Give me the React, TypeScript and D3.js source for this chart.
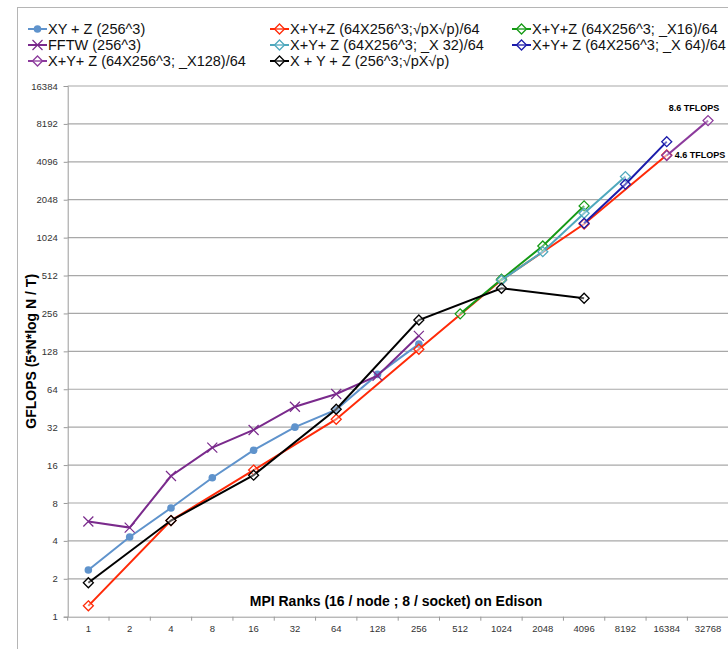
import React, { useRef, useEffect } from 'react';
import * as d3 from 'd3';

// MPI rank categories along the x axis
const ranks = ['1', '2', '4', '8', '16', '32', '64', '128', '256', '512', '1024', '2048', '4096', '8192', '16384', '32768'];
const yTicks = [1, 2, 4, 8, 16, 32, 64, 128, 256, 512, 1024, 2048, 4096, 8192, 16384];

// GFLOPS per series (rank -> value)
const xyzValues: [string, number][] = [
  ['1', 2.35], ['2', 4.3], ['4', 7.3], ['8', 12.7], ['16', 21], ['32', 32], ['64', 44], ['128', 84], ['256', 146],
];
const fftwValues: [string, number][] = [
  ['1', 5.7], ['2', 5.1], ['4', 13.1], ['8', 22], ['16', 30.4], ['32', 46.5], ['64', 58.7], ['128', 82], ['256', 170],
];
const sqrtPValues: [string, number][] = [
  ['1', 1.22], ['4', 5.8], ['16', 14.6], ['64', 37], ['256', 133], ['1024', 472], ['4096', 1314], ['16384', 4645],
];
const x16Values: [string, number][] = [['512', 254], ['1024', 478], ['2048', 880], ['4096', 1830]];
const x32Values: [string, number][] = [['1024', 470], ['2048', 792], ['4096', 1600], ['8192', 3125]];
const x64Values: [string, number][] = [['4096', 1330], ['8192', 2720], ['16384', 5920]];
const x128Values: [string, number][] = [['16384', 4600], ['32768', 8700]];
const singleValues: [string, number][] = [
  ['1', 1.86], ['4', 5.8], ['16', 13.3], ['64', 44.4], ['256', 227], ['1024', 406], ['4096', 338],
];

type Series = { name: string; color: string; marker: 'circle' | 'cross' | 'diamond'; values: [string, number][] };

// order follows the legend (row-major, 3 columns)
const series: Series[] = [
  { name: 'XY + Z (256^3)', color: '#5f93cc', marker: 'circle', values: xyzValues },
  { name: 'X+Y+Z (64X256^3;\u221apX\u221ap)/64', color: '#ff2a08', marker: 'diamond', values: sqrtPValues },
  { name: 'X+Y+Z (64X256^3; _X16)/64', color: '#159a15', marker: 'diamond', values: x16Values },
  { name: 'FFTW (256^3)', color: '#7a2a8c', marker: 'cross', values: fftwValues },
  { name: 'X+Y+ Z (64X256^3; _X 32)/64', color: '#4fa8bd', marker: 'diamond', values: x32Values },
  { name: 'X+Y+ Z (64X256^3; _X 64)/64', color: '#1c1cab', marker: 'diamond', values: x64Values },
  { name: 'X+Y+ Z (64X256^3; _X128)/64', color: '#8c3a9c', marker: 'diamond', values: x128Values },
  { name: 'X + Y + Z (256^3;\u221apX\u221ap)', color: '#000000', marker: 'diamond', values: singleValues },
];

const annotations: [string, number, string][] = [
  ['32768', 8700, '8.6 TFLOPS'],
  ['16384', 4600, '4.6 TFLOPS'],
];

const width = 728;
const height = 649;
const font = '"Liberation Sans", Arial, sans-serif';

const Chart = () => {
  const svgRef = useRef<SVGSVGElement>(null);

  useEffect(() => {
    document.body.style.margin = '0';
    document.body.style.overflow = 'hidden';

    const svg = d3.select(svgRef.current);
    svg.selectAll('*').remove();

    const left = 67.7;
    const right = 728.7;
    const top = 86;
    const bottom = 616.7;

    const x = d3.scaleBand<string>().domain(ranks).range([left, right]);
    const cx = (r: string) => (x(r) as number) + x.bandwidth() / 2;
    const y = d3.scaleLog().base(2).domain([1, 16384]).range([bottom, top]);

    svg.append('rect').attr('width', width).attr('height', height).attr('fill', '#fff');

    // outer chart frame
    svg.append('rect')
      .attr('x', 17.5).attr('y', 7.5)
      .attr('width', 800).attr('height', 800)
      .attr('fill', 'none').attr('stroke', '#b5b5b5').attr('stroke-width', 1);

    // gridlines
    svg.append('g')
      .selectAll('line')
      .data(yTicks.slice(1))
      .enter()
      .append('line')
      .attr('x1', left).attr('x2', right)
      .attr('y1', d => y(d)).attr('y2', d => y(d))
      .attr('stroke', '#a8a8a8').attr('stroke-width', 1.2);

    // y axis
    const yAxis = svg.append('g')
      .attr('transform', `translate(${left},0)`)
      .call(d3.axisLeft(y).tickValues(yTicks).tickFormat(d3.format('d')).tickSize(4).tickPadding(6));
    yAxis.select('.domain').attr('stroke', '#9a9a9a');
    yAxis.selectAll('.tick line').attr('stroke', '#9a9a9a');
    yAxis.selectAll('text').attr('font-family', font).attr('font-size', 9.5).attr('fill', '#333');

    // x axis with ticks between categories
    const xAxis = svg.append('g')
      .attr('transform', `translate(0,${bottom})`)
      .call(d3.axisBottom(x).tickSize(0).tickPadding(9));
    xAxis.select('.domain').attr('stroke', '#9a9a9a');
    xAxis.selectAll('text').attr('font-family', font).attr('font-size', 9.5).attr('fill', '#333');
    svg.append('g')
      .selectAll('line')
      .data(ranks)
      .enter()
      .append('line')
      .attr('x1', d => x(d) as number).attr('x2', d => x(d) as number)
      .attr('y1', bottom).attr('y2', bottom + 4)
      .attr('stroke', '#9a9a9a');

    // axis titles
    svg.append('text')
      .attr('transform', `translate(36,${(top + bottom) / 2}) rotate(-90)`)
      .attr('text-anchor', 'middle')
      .attr('font-family', font).attr('font-size', 14).attr('font-weight', 'bold')
      .text('GFLOPS (5*N*log N / T)');
    svg.append('text')
      .attr('x', 396).attr('y', 606)
      .attr('text-anchor', 'middle')
      .attr('font-family', font).attr('font-size', 14).attr('font-weight', 'bold')
      .text('MPI Ranks (16 / node ; 8 / socket) on Edison');

    const line = d3.line<[string, number]>()
      .x(d => cx(d[0]))
      .y(d => y(d[1]));

    const drawMarker = (g: d3.Selection<SVGGElement, unknown, null, undefined>, s: Series, px: number, py: number) => {
      if (s.marker === 'circle') {
        g.append('circle').attr('cx', px).attr('cy', py).attr('r', 3.8).attr('fill', s.color);
      } else if (s.marker === 'cross') {
        const r = 5;
        g.append('path')
          .attr('d', `M${px - r},${py - r}L${px + r},${py + r}M${px - r},${py + r}L${px + r},${py - r}`)
          .attr('stroke', s.color).attr('stroke-width', 1.2).attr('fill', 'none');
      } else {
        const r = 5;
        g.append('path')
          .attr('d', `M${px},${py - r}L${px + r},${py}L${px},${py + r}L${px - r},${py}Z`)
          .attr('stroke', s.color).attr('stroke-width', 1.3).attr('fill', 'rgba(255,255,255,0.35)');
      }
    };

    // series lines and markers
    series.forEach(s => {
      const g = svg.append('g');
      g.append('path')
        .attr('d', line(s.values))
        .attr('fill', 'none')
        .attr('stroke', s.color)
        .attr('stroke-width', 2);
      s.values.forEach(v => drawMarker(g, s, cx(v[0]), y(v[1])));
    });

    // annotations
    annotations.forEach(([r, v, label], i) => {
      svg.append('text')
        .attr('x', i === 0 ? cx(r) - 14 : cx(r) + 8)
        .attr('y', i === 0 ? y(v) - 10 : y(v) + 3)
        .attr('text-anchor', i === 0 ? 'middle' : 'start')
        .attr('font-family', font).attr('font-size', 9).attr('font-weight', 'bold')
        .text(label);
    });

    // legend, 3 columns
    const colX = [28, 270, 512];
    const rowY = [29, 45, 61];
    series.forEach((s, i) => {
      const lx = colX[i % 3];
      const ly = rowY[Math.floor(i / 3)];
      const g = svg.append('g');
      g.append('line')
        .attr('x1', lx).attr('x2', lx + 19)
        .attr('y1', ly).attr('y2', ly)
        .attr('stroke', s.color).attr('stroke-width', 2);
      drawMarker(g, s, lx + 9.5, ly);
      g.append('text')
        .attr('x', lx + 20).attr('y', ly + 5)
        .attr('font-family', font).attr('font-size', 14.5)
        .attr('fill', '#111')
        .text(s.name);
    });
  }, []);

  return <svg ref={svgRef} width={width} height={height} style={{ display: 'block' }}></svg>;
};

export default function App() {
  return <Chart />;
}
